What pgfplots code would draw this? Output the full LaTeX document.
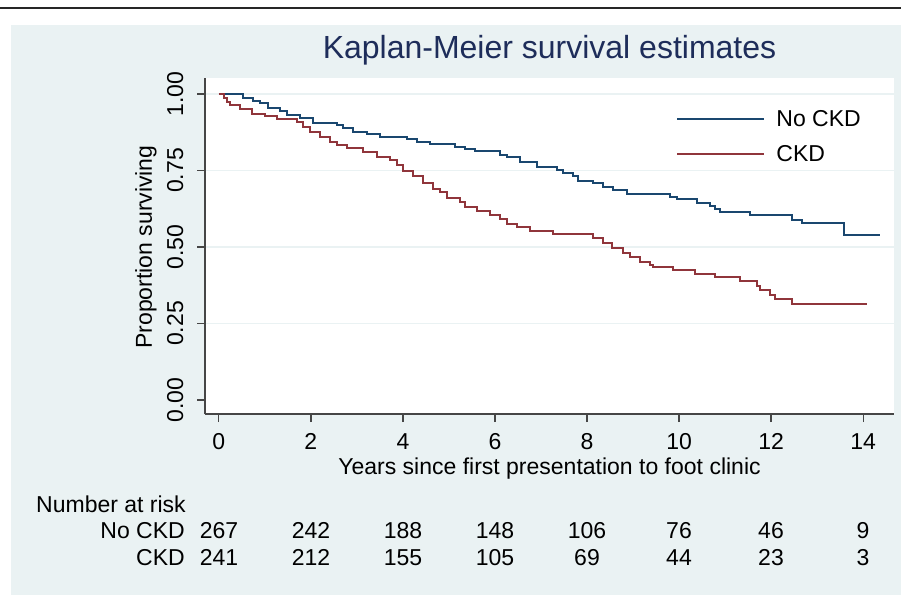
\documentclass[border=0pt]{standalone}
\usepackage{pgfplots}
\pgfplotsset{compat=1.18}
\usepackage{fontspec}
\setmainfont{Liberation Sans}
\definecolor{bg}{RGB}{234,242,243}
\definecolor{sblue}{RGB}{26,71,111}
\definecolor{smaroon}{RGB}{144,53,59}
\definecolor{titleblue}{RGB}{30,45,90}
\definecolor{axgray}{RGB}{70,70,70}
\newcommand{\fs}{\fontsize{23}{26}\selectfont}
\begin{document}
\begin{tikzpicture}[x=1pt,y=1pt]
\useasboundingbox (0,0) rectangle (901,595);
\fill[white] (0,0) rectangle (901,595);
\fill[bg] (11,0) rectangle (901,570);
\draw[black!85, line width=2.5pt] (0,587) -- (901,587);
\begin{axis}[
  at={(205pt,181pt)}, anchor=south west,
  scale only axis, width=689pt, height=336pt,
  xmin=-0.30, xmax=14.67, ymin=-0.0458, ymax=1.052,
  axis x line*=bottom, axis y line*=left,
  axis line style={axgray, line width=1.3pt, -},
  axis background/.style={fill=white},
  xtick={0,2,...,14},
  ytick={0.25,0.5,0.75,1},
  extra y ticks={0},
  extra y tick style={grid=none},
  tick align=outside, major tick length=8pt,
  tick style={axgray, line width=1.3pt},
  ymajorgrids, grid style={bg, line width=1.5pt},
  /pgf/number format/assume math mode=true,
  yticklabel style={/pgf/number format/.cd, fixed, fixed zerofill, precision=2, /tikz/.cd, xshift=-14pt, rotate=90, anchor=base, inner sep=0pt, font=\fs},
  xticklabel style={yshift=-27pt, anchor=base, inner sep=0pt, font=\fs},
  ylabel={Proportion surviving},
  ylabel style={at={(axis description cs:-0.077,0.497)}, anchor=base, rotate=0, inner sep=0pt, font=\fs},
  xlabel={Years since first presentation to foot clinic},
  xlabel style={at={(axis description cs:0.5,-0.1815)}, anchor=base, inner sep=0pt, font=\fs},
  title={Kaplan-Meier survival estimates},
  title style={at={(axis description cs:0.5,1.0387)}, anchor=base, inner sep=0pt, font=\fontsize{32}{36}\selectfont, text=titleblue},
  legend style={at={(axis description cs:0.6836,0.905)}, anchor=north west, draw=none, fill=none, inner sep=0pt, font=\fs, row sep=17.5pt, column sep=11pt, nodes={inner sep=0pt}},
  legend cell align=left,
  legend image code/.code={\draw[#1, line width=2.2pt] (0pt,0pt) -- (87pt,0pt);},
  clip=false,
]
\addplot[const plot mark left, sblue, line width=2.2pt] coordinates {
(0,1.000)(0.52,0.987)(0.74,0.977)(0.89,0.971)(1.07,0.954)(1.33,0.944)(1.48,0.931)(1.76,0.922)(2.04,0.905)(2.57,0.899)(2.70,0.889)(2.91,0.876)(3.22,0.869)(3.50,0.859)(4.09,0.853)(4.30,0.843)(4.59,0.837)(5.13,0.827)(5.35,0.820)(5.57,0.814)(6.11,0.801)(6.26,0.794)(6.54,0.778)(6.91,0.761)(7.35,0.752)(7.48,0.742)(7.70,0.732)(7.80,0.716)(8.13,0.709)(8.35,0.696)(8.57,0.686)(8.87,0.673)(9.80,0.663)(9.96,0.657)(10.39,0.644)(10.67,0.634)(10.78,0.624)(10.89,0.614)(11.54,0.605)(12.46,0.588)(12.67,0.578)(13.59,0.539)(14.37,0.539)
};
\addlegendentry{No CKD}
\addplot[const plot mark left, smaroon, line width=2.2pt] coordinates {
(0,1.000)(0.11,0.987)(0.17,0.974)(0.24,0.964)(0.46,0.951)(0.72,0.935)(1.00,0.928)(1.26,0.918)(1.70,0.908)(1.83,0.892)(1.98,0.876)(2.20,0.859)(2.41,0.843)(2.57,0.833)(2.78,0.824)(3.13,0.810)(3.43,0.794)(3.72,0.784)(3.87,0.768)(4.00,0.748)(4.22,0.732)(4.43,0.709)(4.65,0.690)(4.80,0.680)(4.96,0.660)(5.24,0.647)(5.35,0.631)(5.61,0.618)(5.89,0.605)(6.11,0.592)(6.26,0.575)(6.48,0.565)(6.76,0.552)(7.26,0.542)(8.13,0.529)(8.35,0.513)(8.54,0.497)(8.78,0.480)(8.93,0.467)(9.15,0.451)(9.37,0.441)(9.43,0.435)(9.87,0.425)(10.35,0.412)(10.78,0.402)(11.33,0.389)(11.70,0.373)(11.76,0.359)(11.98,0.343)(12.09,0.330)(12.46,0.314)(14.09,0.314)
};
\addlegendentry{CKD}
\end{axis}
\node[anchor=base west, inner sep=0pt, font=\fs] at (36,83) {Number at risk};
\node[anchor=base east, inner sep=0pt, font=\fs] at (185,57) {No CKD};
\node[anchor=base east, inner sep=0pt, font=\fs] at (185,30) {CKD};
\foreach \k/\a/\b in {0/267/241,1/242/212,2/188/155,3/148/105,4/106/69,5/76/44,6/46/23,7/9/3}{
  \node[anchor=base, inner sep=0pt, font=\fs] at ({219+92*\k},57) {\a};
  \node[anchor=base, inner sep=0pt, font=\fs] at ({219+92*\k},30) {\b};
}
\end{tikzpicture}
\end{document}
